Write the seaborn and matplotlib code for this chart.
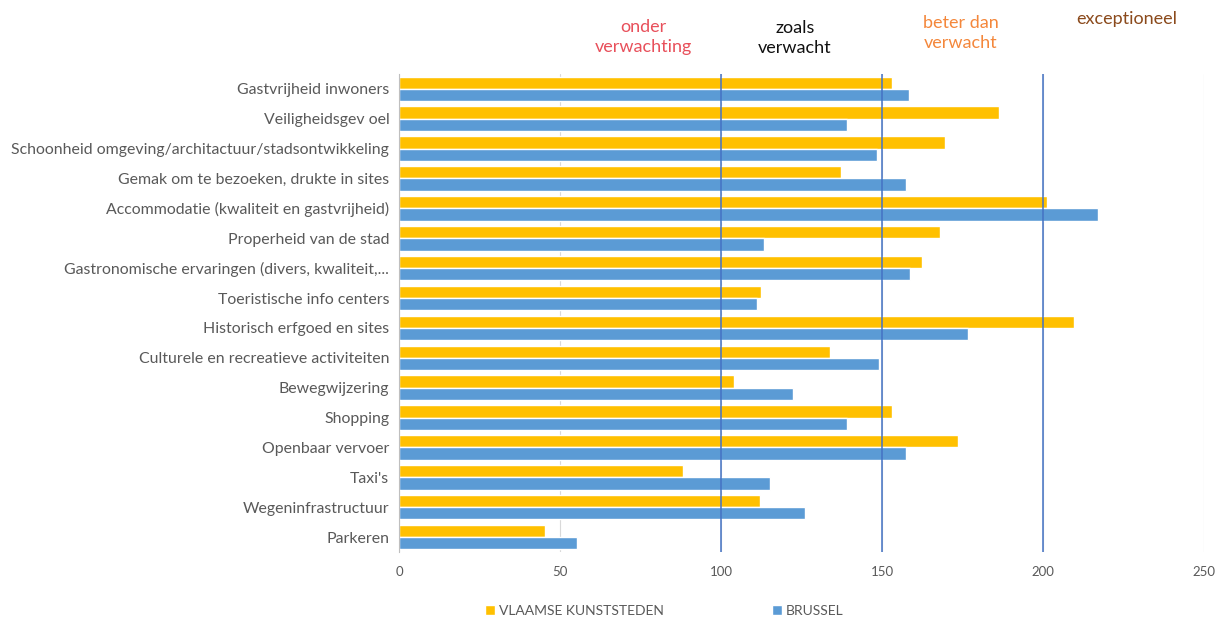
import matplotlib
matplotlib.use("Agg")
import matplotlib.pyplot as plt
import pandas as pd
import seaborn as sns
from matplotlib.patches import Patch

categories = [
    "Gastvrijheid inwoners",
    "Veiligheidsgev oel",
    "Schoonheid omgeving/architactuur/stadsontwikkeling",
    "Gemak om te bezoeken, drukte in sites",
    "Accommodatie (kwaliteit en gastvrijheid)",
    "Properheid van de stad",
    "Gastronomische ervaringen (divers, kwaliteit,...",
    "Toeristische info centers",
    "Historisch erfgoed en sites",
    "Culturele en recreatieve activiteiten",
    "Bewegwijzering",
    "Shopping",
    "Openbaar vervoer",
    "Taxi's",
    "Wegeninfrastructuur",
    "Parkeren",
]
vlaamse = [153.0, 186.2, 169.5, 137.3, 201.1, 168.1, 162.5, 112.4,
           209.6, 133.8, 104.1, 153.0, 173.7, 88.3, 112.1, 45.4]
brussel = [158.3, 139.1, 148.5, 157.3, 217.1, 113.2, 158.6, 111.1,
           176.8, 148.9, 122.2, 139.1, 157.3, 115.3, 126.2, 55.2]
series_names = ["VLAAMSE KUNSTSTEDEN", "BRUSSEL"]
x_ticks = [0, 50, 100, 150, 200, 250]
ref_lines = [100, 150, 200]
zones = ["onder\nverwachting", "zoals\nverwacht", "beter dan\nverwacht", "exceptioneel"]
zone_colors = ["#E8505B", "#111111", "#F4873B", "#8B4A1C"]

df = pd.concat([
    pd.DataFrame({"Categorie": categories, "Score": vlaamse, "Reeks": series_names[0]}),
    pd.DataFrame({"Categorie": categories, "Score": brussel, "Reeks": series_names[1]}),
], ignore_index=True)

sns.set_style("white")
plt.rcParams["font.family"] = ["Lato", "DejaVu Sans"]

palette = {series_names[0]: "#FFC000", series_names[1]: "#5B9BD5"}
fig = plt.figure(figsize=(12.23, 6.21), dpi=100)
ax = fig.add_axes([0.3263, 0.111, 0.6582, 0.770])

ax.set_axisbelow(True)
ax.grid(axis="x", color="#D9D9D9", linewidth=0.8)
sns.barplot(data=df, y="Categorie", x="Score", hue="Reeks", order=categories,
            hue_order=series_names, palette=palette, width=0.82, saturation=1,
            ax=ax, legend=False)
for v in ref_lines:
    ax.axvline(v, color="#4472C4", linewidth=1.1, zorder=5)

ax.set_xlim(0, 250)
ax.set_xticks(x_ticks)
ax.set_xlabel("")
ax.set_ylabel("")
ax.tick_params(axis="x", colors="#595959", labelsize=9.5, length=0, pad=10)
ax.tick_params(axis="y", colors="#595959", labelsize=11.4, length=0, pad=7)
for s in ["top", "right", "bottom"]:
    ax.spines[s].set_visible(False)
ax.spines["left"].set_color("#BFBFBF")

# zone labels above the chart
zone_pos = [(643, 37), (795, 38), (961, 33), (1127, 19)]
for txt, col, (px, py) in zip(zones, zone_colors, zone_pos):
    fig.text(px / 1223, 1 - py / 621, txt, color=col, ha="center", va="center",
             fontsize=13, linespacing=1.3)

handles = [Patch(facecolor=palette[n], label=n) for n in series_names]
fig.legend(handles=handles, loc="center", bbox_to_anchor=(0.543, 1 - 611 / 621),
           ncol=2, frameon=False, fontsize=10, labelcolor="#595959",
           handlelength=0.7, handleheight=0.7, handletextpad=0.3,
           columnspacing=7.8)

fig.savefig("out.png", dpi=100)
